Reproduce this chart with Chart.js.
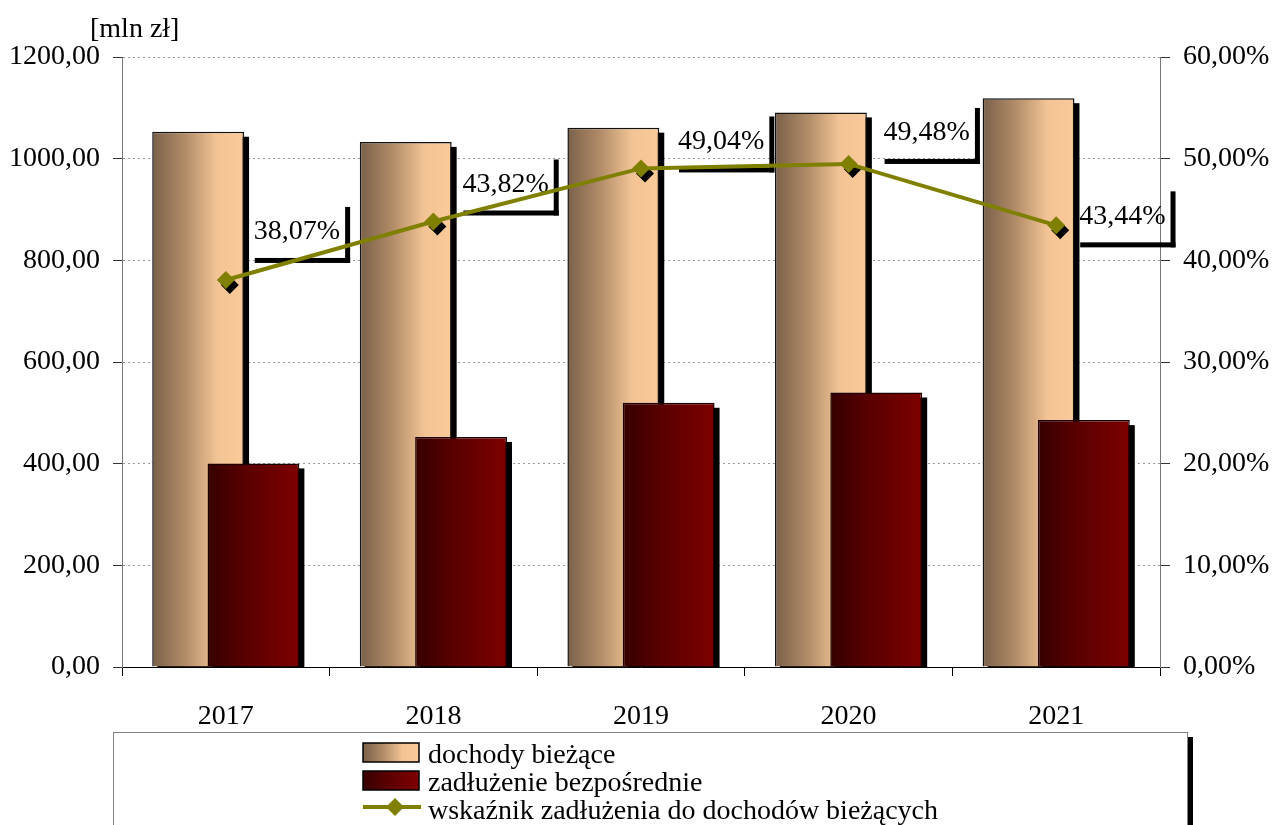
<!DOCTYPE html>
<html>
<head>
<meta charset="utf-8">
<script src="https://cdn.jsdelivr.net/npm/chart.js@4.4.1/dist/chart.umd.min.js"></script>
<style>
html, body { margin: 0; padding: 0; background: #fff; }
canvas { display: block; }
</style>
</head>
<body>
<canvas id="chart" width="1273" height="825"></canvas>
<script>
const years = ['2017', '2018', '2019', '2020', '2021'];
const dochody = [1053, 1033, 1061, 1091, 1119];
const zadluzenie = [400.5, 452.6, 519.8, 540.0, 485.7];
const wskaznik = [38.07, 43.82, 49.04, 49.48, 43.44];
const unitLabel = '[mln zł]';

const fontFamily = "'Liberation Serif', 'Times New Roman', serif";
const fontSize = 28;
Chart.defaults.font.family = fontFamily;
Chart.defaults.font.size = fontSize;
Chart.defaults.color = '#000';

const fmt = v => v.toFixed(2).replace('.', ',');

// horizontal gradients for the two bar series
const barStops = [
	[[0, '#7a614a'], [0.35, '#b08b67'], [0.7, '#f2c394'], [1, '#fbca9a']],
	[[0, '#360000'], [0.45, '#5c0000'], [1, '#7e0000']]
];
// where each percentage label sits relative to its point
const labelShift = [[28, -48], [29, -37], [37, -27], [35, -31], [23, -9]];

function grad(ctx, x0, x1, stops) {
	const g = ctx.createLinearGradient(x0, 0, x1, 0);
	stops.forEach(s => g.addColorStop(s[0], s[1]));
	return g;
}

function diamond(ctx, x, y, r) {
	ctx.beginPath();
	ctx.moveTo(x - r, y);
	ctx.lineTo(x, y - r);
	ctx.lineTo(x + r, y);
	ctx.lineTo(x, y + r);
	ctx.closePath();
	ctx.fill();
}

const excelLook = {
	id: 'excelLook',
	beforeDatasetDraw() {
		return false; // drawn by hand below, in index order
	},
	afterDatasetsDraw(chart) {
		const ctx = chart.ctx;
		const base = chart.scales.y.getPixelForValue(0);
		chart.data.datasets.forEach((ds, i) => {
			const meta = chart.getDatasetMeta(i);
			if (meta.type === 'bar') {
				ctx.save();
				ctx.fillStyle = '#000';
				meta.data.forEach(el => {
					const w = el.width;
					ctx.fillRect(el.x - w / 2 + 5, el.y + 5, w, base - el.y - 5);
					el.options.backgroundColor = grad(ctx, el.x - w / 2, el.x + w / 2, barStops[i]);
				});
				ctx.restore();
			} else {
				ctx.save();
				ctx.font = fontSize + 'px ' + fontFamily;
				ctx.textBaseline = 'middle';
				ctx.textAlign = 'left';
				ctx.fillStyle = '#000';
				meta.data.forEach((el, k) => {
					const txt = fmt(wskaznik[k]) + '%';
					const tx = el.x + labelShift[k][0];
					const ty = el.y + labelShift[k][1];
					const tw = ctx.measureText(txt).width;
					const L = tx - 4, R = tx + tw + 5, T = ty - 30, B = ty + 26;
					ctx.fillRect(L + 5, B, R - L, 5);
					ctx.fillRect(R, T + 5, 5, B - T);
					ctx.fillText(txt, tx, ty);
					diamond(ctx, el.x + 4, el.y + 5, 9);
				});
				ctx.restore();
			}
			meta.controller.draw();
		});
	},
	afterDraw(chart) {
		const ctx = chart.ctx;
		ctx.save();
		ctx.fillStyle = '#000';
		ctx.font = fontSize + 'px ' + fontFamily;
		ctx.textBaseline = 'alphabetic';
		ctx.textAlign = 'left';
		ctx.fillText(unitLabel, 90, 37);

		// legend box
		ctx.fillRect(1188, 737, 5, 100);
		ctx.strokeStyle = '#808080';
		ctx.lineWidth = 1;
		ctx.strokeRect(113.5, 732.5, 1074, 120);

		const sx = 363, sw = 56, tx = 428;
		const rows = [763, 791, 819];
		chart.data.datasets.forEach((ds, i) => {
			const y = rows[i];
			if (i < 2) {
				ctx.fillStyle = grad(ctx, sx, sx + sw, barStops[i]);
				ctx.fillRect(sx, y - 20, sw, 19);
				ctx.strokeStyle = '#000';
				ctx.lineWidth = 1.5;
				ctx.strokeRect(sx, y - 20, sw, 19);
			} else {
				ctx.strokeStyle = ds.borderColor;
				ctx.lineWidth = 4;
				ctx.beginPath();
				ctx.moveTo(sx, y - 12);
				ctx.lineTo(sx + 58, y - 12);
				ctx.stroke();
				ctx.fillStyle = ds.borderColor;
				diamond(ctx, sx + 32, y - 12, 9);
			}
			ctx.fillStyle = '#000';
			ctx.fillText(ds.label, tx, y);
		});
		ctx.restore();
	}
};

new Chart(document.getElementById('chart').getContext('2d'), {
	type: 'bar',
	data: {
		labels: years,
		datasets: [
			{
				label: 'dochody bieżące',
				data: dochody,
				backgroundColor: () => '#f2c394',
				borderColor: '#111',
				borderWidth: 1.5,
				categoryPercentage: 0.533,
				barPercentage: 1.66,
				yAxisID: 'y'
			},
			{
				label: 'zadłużenie bezpośrednie',
				data: zadluzenie,
				backgroundColor: () => '#7e0000',
				borderColor: '#1a0000',
				borderWidth: 1.5,
				categoryPercentage: 0.533,
				barPercentage: 1.66,
				yAxisID: 'y'
			},
			{
				type: 'line',
				label: 'wskaźnik zadłużenia do dochodów bieżących',
				data: wskaznik,
				borderColor: '#808000',
				backgroundColor: '#808000',
				borderWidth: 4,
				pointStyle: 'rectRot',
				pointRadius: 9,
				pointBorderWidth: 0,
				pointBackgroundColor: '#808000',
				tension: 0,
				yAxisID: 'y1'
			}
		]
	},
	options: {
		responsive: false,
		animation: false,
		events: [],
		layout: { padding: { top: 57, left: 0, right: 0, bottom: 0 } },
		plugins: {
			legend: { display: false },
			tooltip: { enabled: false }
		},
		scales: {
			x: {
				offset: true,
				grid: { offset: true, drawOnChartArea: false, tickLength: 9, tickColor: '#000' },
				border: { color: '#000' },
				ticks: { padding: 24 },
				afterFit: s => { s.height = 158; }
			},
			y: {
				position: 'left',
				min: 0,
				max: 1200,
				ticks: { stepSize: 200, padding: 13, callback: v => fmt(v) },
				grid: { color: '#999', tickColor: '#333', tickLength: 9 },
				border: { color: '#777', dash: [2, 3] },
				afterFit: s => { s.width = 122; }
			},
			y1: {
				position: 'right',
				min: 0,
				max: 60,
				ticks: { stepSize: 10, padding: 13, callback: v => fmt(v) + '%' },
				grid: { drawOnChartArea: false, tickColor: '#333', tickLength: 10 },
				border: { color: '#777' },
				afterFit: s => { s.width = 113; }
			}
		}
	},
	plugins: [excelLook]
});
</script>
</body>
</html>
